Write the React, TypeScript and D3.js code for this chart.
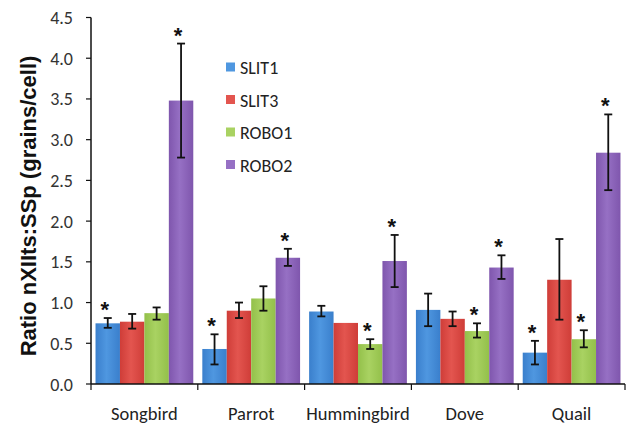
import React from "react";
import * as d3 from "d3";

const categories = ["Songbird", "Parrot", "Hummingbird", "Dove", "Quail"];
const seriesNames = ["SLIT1", "SLIT3", "ROBO1", "ROBO2"];
const slit1 = [0.745, 0.43, 0.89, 0.91, 0.385];
const slit3 = [0.765, 0.9, 0.75, 0.8, 1.28];
const robo1 = [0.87, 1.05, 0.49, 0.65, 0.55];
const robo2 = [3.48, 1.55, 1.51, 1.43, 2.84];
const slit1Err = [[0.69, 0.81], [0.24, 0.61], [0.83, 0.96], [0.71, 1.11], [0.24, 0.53]];
const slit3Err = [[0.68, 0.86], [0.81, 1.0], [0.75, 0.75], [0.71, 0.89], [0.79, 1.78]];
const robo1Err = [[0.79, 0.94], [0.9, 1.2], [0.43, 0.55], [0.57, 0.745], [0.45, 0.66]];
const robo2Err = [[2.78, 4.18], [1.45, 1.66], [1.19, 1.83], [1.29, 1.58], [2.38, 3.31]];
const slit1Star = [true, true, false, false, true];
const slit3Star = [false, false, false, false, false];
const robo1Star = [false, false, true, true, true];
const robo2Star = [true, true, true, true, true];
const yTicks = [0, 0.5, 1, 1.5, 2, 2.5, 3, 3.5, 4, 4.5];

const colors = [
  ["#3a7fcc", "#4f97e0"],
  ["#cf3d38", "#e3554f"],
  ["#93c04a", "#a9d262"],
  ["#7f56ad", "#9670c4"],
];

export default function App() {
  const W = 626, H = 424;
  const x0 = 91, x1 = 625, yTop = 17.5, yBot = 384;
  const y = d3.scaleLinear().domain([0, 4.5]).range([yBot, yTop]);
  const x = d3.scaleBand().domain(categories).range([x0, x1]).paddingInner(0).paddingOuter(0);
  const inner = d3.scaleBand().domain(seriesNames).range([0, x.bandwidth()]).paddingOuter(0.185).paddingInner(0);
  const vals = [slit1, slit3, robo1, robo2];
  const errs = [slit1Err, slit3Err, robo1Err, robo2Err];
  const stars = [slit1Star, slit3Star, robo1Star, robo2Star];
  const font = "Calibri, Carlito, 'Open Sans', 'Noto Sans', sans-serif";

  return (
    <svg width={W} height={H} style={{ position: "absolute", left: 0, top: 0 }}>
      <defs>
        {colors.map((c, i) => (
          <linearGradient key={i} id={`g${i}`} x1="0" x2="1" y1="0" y2="0">
            <stop offset="0%" stopColor={c[0]} />
            <stop offset="45%" stopColor={c[1]} />
            <stop offset="100%" stopColor={c[0]} />
          </linearGradient>
        ))}
      </defs>
      <rect width={W} height={H} fill="#fff" />
      {categories.map((cat, ci) =>
        seriesNames.map((s, si) => {
          const bx = (x(cat) as number) + (inner(s) as number);
          const bw = inner.bandwidth();
          const v = vals[si][ci];
          const [lo, hi] = errs[si][ci];
          const cx = bx + bw / 2;
          return (
            <g key={`${ci}-${si}`}>
              <rect x={bx} y={y(v)} width={bw} height={yBot - y(v)} fill={`url(#g${si})`} />
              {hi > lo && (
                <g stroke="#111" strokeWidth={1.8}>
                  <line x1={cx} x2={cx} y1={y(hi)} y2={y(lo)} />
                  <line x1={cx - 4} x2={cx + 4} y1={y(hi)} y2={y(hi)} />
                  <line x1={cx - 4} x2={cx + 4} y1={y(lo)} y2={y(lo)} />
                </g>
              )}
              {stars[si][ci] && (
                <text x={cx - 3} y={y(hi) - 1} textAnchor="middle" fontFamily="Arial, 'Liberation Sans', sans-serif" fontWeight="bold" fontSize={22} fill="#111">*</text>
              )}
            </g>
          );
        })
      )}
      <line x1={x0} x2={x0} y1={yTop} y2={yBot} stroke="#111" strokeWidth={1.5} />
      <line x1={x0} x2={x1} y1={yBot} y2={yBot} stroke="#111" strokeWidth={1.5} />
      {yTicks.map((t) => (
        <g key={t}>
          <line x1={x0 - 5} x2={x0} y1={y(t)} y2={y(t)} stroke="#111" strokeWidth={1.2} />
          <text x={x0 - 18} y={y(t) + 6.5} textAnchor="end" fontFamily={font} fontSize={18} fill="#333">{t.toFixed(1)}</text>
        </g>
      ))}
      {[...categories.map((c) => x(c) as number), x1].map((px, i) => (
        <line key={i} x1={px} x2={px} y1={yBot} y2={yBot + 6} stroke="#111" strokeWidth={1.2} />
      ))}
      {categories.map((c) => (
        <text key={c} x={(x(c) as number) + x.bandwidth() / 2} y={420} textAnchor="middle" fontFamily={font} fontSize={18.5} fill="#222">{c}</text>
      ))}
      <text transform={`translate(36,206) rotate(-90)`} textAnchor="middle" fontFamily="Arial, 'Liberation Sans', sans-serif" fontWeight="bold" fontSize={22} fill="#111">Ratio nXIIts:SSp (grains/cell)</text>
      {seriesNames.map((s, i) => (
        <g key={s}>
          <rect x={226} y={62.5 + i * 32.5} width={9} height={9} fill={colors[i][1]} />
          <text x={240} y={74 + i * 32.5} fontFamily={font} fontSize={18} fill="#222">{s}</text>
        </g>
      ))}
    </svg>
  );
}
